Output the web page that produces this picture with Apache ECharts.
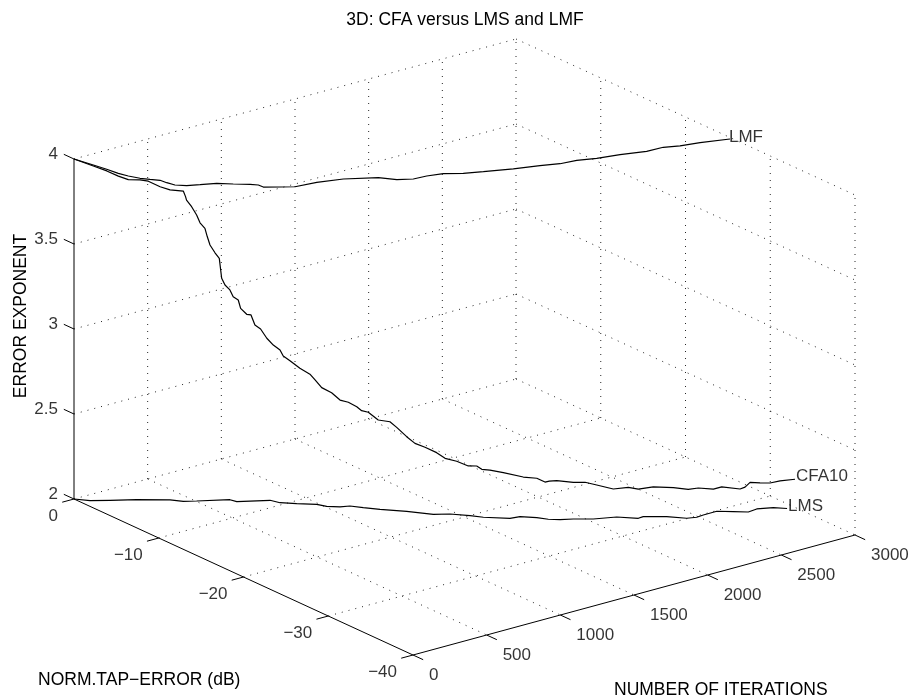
<!DOCTYPE html>
<html><head><meta charset="utf-8">
<style>html,body{margin:0;padding:0;background:#fff}#c{width:908px;height:697px}</style>
<script src="https://cdn.jsdelivr.net/npm/echarts@6/dist/echarts.min.js"></script>
</head><body><div id="c"></div>
<script>
// ---- data: iterations, tap error (dB), error exponent ----
const lmfIter=[0,27,44,56,74,103,136,170,176,190,233,300,384,448,517,546,548,620,686,820,964,1126,1186,1263,1348,1440,1529,1630,1783,1927,2031,2134,2238,2371,2516,2624,2708,2824,2986];
const lmfDb=[0,-1.81,-3.09,-4.25,-5.12,-6.00,-6.60,-7.20,-7.88,-8.61,-9.24,-9.66,-10.17,-11.00,-11.79,-12.26,-12.81,-13.54,-14.15,-14.39,-15.02,-16.34,-17.47,-18.08,-18.18,-18.54,-19.35,-19.97,-20.84,-21.48,-22.04,-22.22,-22.77,-23.21,-23.83,-23.91,-24.43,-24.78,-25.49];
const lmfExp=[4,4,4,4,4,4,4,4,4,4,4,4,4,4,4,4,4,4,4,4,4,4,4,4,4,4,4,4,4,4,4,4,4,4,4,4,4,4,4];

const lmsIter=[0,53,142,261,401,445,505,659,670,825,845,907,987,1011,1063,1113,1154,1211,1306,1392,1466,1536,1578,1682,1740,1802,1837,1883,1946,2031,2150,2230,2266,2366,2437,2489,2538,2630,2697,2758,2822,2905,2956];
const lmsDb=[0,-0.97,-1.79,-2.86,-4.36,-5.16,-5.69,-6.94,-7.56,-8.79,-9.62,-10.51,-11.48,-12.24,-12.91,-13.21,-14.07,-15.06,-16.55,-18.20,-18.88,-20.03,-20.87,-22.20,-22.38,-23.28,-24.03,-24.62,-25.09,-25.96,-26.66,-27.82,-27.77,-28.80,-29.93,-30.21,-30.13,-30.12,-30.91,-31.62,-31.50,-32.02,-32.75];
const lmsExp=[2,2,2,2,2,2,2,2,2,2,2,2,2,2,2,2,2,2,2,2,2,2,2,2,2,2,2,2,2,2,2,2,2,2,2,2,2,2,2,2,2,2,2];

const cfaIter=[0,68,127,179,223,275,310,359,401,445,455,459,482,505,520,543,554,567,590,610,617,621,636,659,664,677,688,716,736,754,781,810,831,845,857,882,920,960,981,999,1030,1063,1105,1134,1150,1173,1205,1247,1271,1306,1333,1365,1407,1444,1489,1529,1557,1573,1604,1656,1751,1802,1827,1841,1870,1946,1996,2049,2133,2192,2230,2309,2390,2445,2499,2607,2650,2725,2745,2771,2839,2888,2931,2987];
const cfaDb=[0,-1.10,-1.66,-2.12,-2.53,-3.00,-3.38,-3.92,-4.36,-5.16,-5.25,-5.30,-5.50,-5.69,-5.83,-6.01,-6.10,-6.19,-6.38,-6.54,-6.58,-6.63,-6.76,-6.94,-7.24,-7.61,-7.70,-7.93,-8.09,-8.24,-8.44,-8.67,-9.07,-9.62,-9.79,-10.15,-10.66,-11.15,-11.39,-11.86,-12.49,-12.91,-13.16,-13.65,-13.95,-14.33,-14.95,-15.60,-15.98,-16.55,-17.06,-17.69,-18.33,-18.68,-19.27,-19.94,-20.45,-20.77,-21.19,-21.87,-22.57,-23.28,-23.81,-24.08,-24.45,-25.09,-25.60,-26.06,-26.55,-27.30,-27.82,-28.21,-29.18,-29.97,-30.22,-30.12,-30.36,-31.22,-31.46,-31.60,-31.59,-31.92,-32.36,-33.15];
const cfaExp=[4.000,3.968,3.938,3.906,3.884,3.881,3.874,3.842,3.824,3.825,3.792,3.772,3.732,3.682,3.636,3.602,3.552,3.503,3.456,3.422,3.353,3.304,3.264,3.234,3.200,3.186,3.136,3.100,3.095,3.035,3.010,2.954,2.918,2.898,2.864,2.839,2.797,2.764,2.731,2.692,2.669,2.628,2.611,2.589,2.569,2.563,2.524,2.519,2.489,2.439,2.405,2.389,2.362,2.328,2.314,2.292,2.297,2.281,2.279,2.267,2.235,2.232,2.216,2.224,2.229,2.216,2.216,2.198,2.166,2.179,2.172,2.175,2.174,2.169,2.170,2.136,2.144,2.134,2.146,2.171,2.151,2.147,2.159,2.174];

const iterTicks=[0,500,1000,1500,2000,2500,3000];
const dbTicks=[0,-10,-20,-30,-40];
const expTicks=[2,2.5,3,3.5,4];
const dbTickLabels=['0','\u221210','\u221220','\u221230','\u221240'];
const expTickLabels=['2','2.5','3','3.5','4'];

const FONT='"Liberation Sans", Arial, sans-serif';
const FS=17.5, TICK_FS=17;

// orthographic view of the 3-D box onto the flat cartesian plane
function project(iter,db,exp){
  const u=iter/3000,v=-db/40,w=(exp-2)/2;
  return [74+442*u+339*v, 499-120*u+156*v-340*w];
}

const series=[];
function line(a,b,solid){
  series.push({type:'line',silent:true,symbol:'none',animation:false,
    data:[project(...a),project(...b)],
    lineStyle:solid?{color:'#000',width:1}:{color:'#000',width:1,type:[1,6],opacity:0.85}});
}
// dotted box grid
iterTicks.forEach(t=>{
  if(t>0) line([t,0,2],[t,-40,2]);          // floor
  if(t>0) line([t,0,2],[t,0,4]);            // back wall
});
dbTicks.forEach(d=>{
  if(d>-40) line([0,d,2],[3000,d,2]);       // floor
  if(d<0) line([3000,d,2],[3000,d,4]);      // right wall
});
expTicks.forEach(z=>{
  if(z>2){ line([0,0,z],[3000,0,z]); line([3000,0,z],[3000,-40,z]); }
});
// solid axes and ticks
line([0,0,2],[0,0,4],true);
line([0,0,2],[0,-40,2],true);
line([0,-40,2],[3000,-40,2],true);
expTicks.forEach(z=>line([0,0,z],[0,1.2,z],true));
dbTicks.forEach(d=>line([0,d,2],[-80,d,2],true));
iterTicks.forEach(t=>line([t,-40,2],[t,-41.2,2],true));

// curves
function curve(name,it,db,ex){
  series.push({type:'line',name,symbol:'none',animation:false,silent:true,
    data:it.map((t,i)=>project(t,db[i],ex[i])),
    lineStyle:{color:'#000',width:1.2}});
}
curve('LMF',lmfIter,lmfDb,lmfExp);
curve('CFA10',cfaIter,cfaDb,cfaExp);
curve('LMS',lmsIter,lmsDb,lmsExp);

// real text anchored to projected points
function text(p,str,dx,dy,align){
  series.push({type:'scatter',silent:true,animation:false,symbolSize:0,
    data:[{value:p,name:str}],
    label:{show:true,position:'inside',formatter:str,offset:[dx,dy],align,verticalAlign:'middle',
      color:'#000',fontFamily:FONT,fontSize:TICK_FS}});
}
expTicks.forEach((z,i)=>text(project(0,0,z),expTickLabels[i],-16,-4.5,'right'));
dbTicks.forEach((d,i)=>text(project(0,d,2),dbTickLabels[i],-16,17,'right'));
iterTicks.forEach(t=>text(project(t,-40,2),String(t),16,20,'left'));
const last=a=>a[a.length-1];
text(project(last(lmfIter),last(lmfDb),last(lmfExp)),'LMF',-1,-2,'left');
text(project(last(cfaIter),last(cfaDb),last(cfaExp)),'CFA10',1,-3,'left');
text(project(last(lmsIter),last(lmsDb),last(lmsExp)),'LMS',1,-2.5,'left');

const chart=echarts.init(document.getElementById('c'),null,{renderer:'canvas'});
const txt=(x,y,text,extra)=>Object.assign({type:'text',silent:true,x,y,
  style:{text,fill:'#000',font:FS+'px '+FONT,align:'left',verticalAlign:'middle'}},extra||{});
const centered=(x,y,text,extra)=>{const g=txt(x,y,text,extra);g.style.align='center';return g;};
chart.setOption({
  animation:false,backgroundColor:'#fff',
  grid:{left:0,right:0,top:0,bottom:0},
  xAxis:{type:'value',min:0,max:908,show:false},
  yAxis:{type:'value',min:0,max:697,inverse:true,show:false},
  series,
  graphic:[
    centered(465,20,'3D: CFA versus LMS and LMF'),
    txt(38,680.5,'NORM.TAP\u2212ERROR (dB)'),
    txt(614,690,'NUMBER OF ITERATIONS'),
    centered(21,316,'ERROR EXPONENT',{rotation:Math.PI/2})
  ]
});
</script></body></html>
